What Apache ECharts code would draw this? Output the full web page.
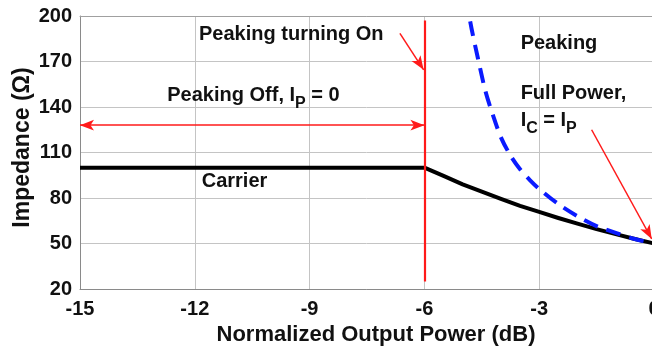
<!DOCTYPE html>
<html>
<head>
<meta charset="utf-8">
<script src="https://cdn.jsdelivr.net/npm/echarts@6/dist/echarts.min.js"></script>
<style>
  html, body { margin: 0; padding: 0; background: #ffffff; }
  #chart { width: 652px; height: 349px; }
</style>
</head>
<body>
<div id="chart"></div>
<script>
// Axis ticks
const xTicks = [-15, -12, -9, -6, -3, 0];
const yTicks = [20, 50, 80, 110, 140, 170, 200];

// Carrier amplifier load impedance (Ω) vs normalized output power (dB)
const carrierPower     = [-15, -6, -5.5, -5, -4.5, -4, -3.5, -3, -2.5, -2, -1.5, -1, -0.5, 0];
const carrierImpedance = [100, 100, 94.6, 89.0, 84.2, 79.4, 74.8, 70.8, 66.8, 63.1, 59.5, 56.2, 53.0, 50];

// Peaking amplifier load impedance (Ω), only defined once it turns on
const peakingPower     = [-5.2, -5.0, -4.8, -4.6, -4.4, -4.2, -4.0, -3.75, -3.5, -3.25, -3.0, -2.5, -2.0, -1.5, -1.0, -0.5, 0];
const peakingImpedance = [275, 228, 196, 172, 150, 134, 120, 108, 99, 92, 86, 76, 68, 61.5, 57, 53, 50];

// Peaking turn-on point and the red guide markers
const turnOnPower = -6;
const turnOnSpan = [25, 197];                 // vertical extent of the turn-on marker
const offRangeArrow = [[-15, 128], [-6, 128]]; // "Peaking Off" range
const turnOnArrow = [[-6.64, 188.6], [-6.02, 164.5]];
const fullPowerArrow = [[-1.63, 125], [-0.06, 53]];

const FONT = '"Liberation Sans", Arial, Helvetica, sans-serif';
const RED = '#ff1a1a';

const chart = echarts.init(document.getElementById('chart'), null, { renderer: 'canvas' });

const pair = (arr) => arr[0].map((x, i) => [x, arr[1][i]]);

const arrowEnd = { symbol: 'arrow', symbolSize: [8, 14] };
const noEnd = { symbol: 'none' };

const option = {
  backgroundColor: '#ffffff',
  animation: false,
  grid: { left: 80, right: -2, top: 16, bottom: 60, containLabel: false, outerBoundsMode: 'none' },
  xAxis: [{
    type: 'value',
    min: xTicks[0],
    max: xTicks[xTicks.length - 1],
    interval: 3,
    name: 'Normalized Output Power (dB)',
    nameLocation: 'middle',
    nameGap: 35,
    nameMoveOverlap: false,
    nameTextStyle: { fontFamily: FONT, fontWeight: 'bold', fontSize: 22, color: '#111', padding: [0, 0, 0, 18] },
    axisLine: { show: true, onZero: false, lineStyle: { color: '#8a8a8a', width: 1 } },
    axisTick: { show: false },
    axisLabel: { fontFamily: FONT, fontWeight: 'bold', fontSize: 20, color: '#111', margin: 10 },
    splitLine: { show: true, lineStyle: { color: '#c4c4c4', width: 1 } }
  }, {
    type: 'value',
    position: 'top',
    min: xTicks[0],
    max: xTicks[xTicks.length - 1],
    axisLine: { show: true, onZero: false, lineStyle: { color: '#a0a0a0', width: 1 } },
    axisTick: { show: false },
    axisLabel: { show: false },
    splitLine: { show: false }
  }],
  yAxis: {
    type: 'value',
    min: yTicks[0],
    max: yTicks[yTicks.length - 1],
    name: 'Impedance (Ω)',
    nameLocation: 'middle',
    nameGap: 46,
    nameMoveOverlap: false,
    nameTextStyle: { fontFamily: FONT, fontWeight: 'bold', fontSize: 23, color: '#111', padding: [0, 0, 0, 10] },
    axisLine: { show: true, onZero: false, lineStyle: { color: '#8a8a8a', width: 1 } },
    axisTick: { show: false, customValues: yTicks },
    axisLabel: { fontFamily: FONT, fontWeight: 'bold', fontSize: 20, color: '#111', margin: 8, customValues: yTicks },
    splitLine: { show: true, lineStyle: { color: '#c4c4c4', width: 1 } }
  },
  series: [
    {
      name: 'Carrier',
      type: 'line',
      data: pair([carrierPower, carrierImpedance]),
      showSymbol: false,
      z: 4,
      lineStyle: { color: '#000000', width: 4, join: 'round' },
      markLine: {
        silent: true,
        animation: false,
        label: { show: false },
        lineStyle: { color: RED, type: 'solid', width: 1.5 },
        itemStyle: { color: RED },
        emphasis: { disabled: true },
        data: [
          [
            { coord: [turnOnPower, turnOnSpan[0]], ...noEnd, lineStyle: { color: RED, width: 2.2, type: 'solid' } },
            { coord: [turnOnPower, turnOnSpan[1]], ...noEnd }
          ],
          [
            { coord: offRangeArrow[0], ...arrowEnd },
            { coord: offRangeArrow[1], ...arrowEnd }
          ],
          [
            { coord: turnOnArrow[0], ...noEnd },
            { coord: turnOnArrow[1], ...arrowEnd }
          ],
          [
            { coord: fullPowerArrow[0], ...noEnd },
            { coord: fullPowerArrow[1], ...arrowEnd }
          ]
        ]
      }
    },
    {
      name: 'Peaking',
      type: 'line',
      data: pair([peakingPower, peakingImpedance]),
      showSymbol: false,
      smooth: 0.3,
      z: 5,
      clip: true,
      lineStyle: { color: '#0a1aff', width: 4, type: [15, 9] }
    }
  ]
};

chart.setOption(option);

// Text annotations placed in data coordinates; subscripts are drawn smaller and lowered.
const notes = [
  { at: [-11.89, 187.5], parts: [['Peaking turning On', 0]] },
  { at: [-12.72, 147.9], parts: [['Peaking Off, I', 0], ['P', 1], [' = 0', 0]] },
  { at: [-11.82, 90.8],  parts: [['Carrier', 0]] },
  { at: [-3.485, 182],   parts: [['Peaking', 0]] },
  { at: [-3.485, 149],   parts: [['Full Power,', 0]] },
  { at: [-3.485, 131.4], parts: [['I', 0], ['C', 1], [' = I', 0], ['P', 1]] }
];

const MAIN_SIZE = 20, SUB_SIZE = 16, SUB_DROP = 9;
const measureCtx = document.createElement('canvas').getContext('2d');
function textWidth(str, size) {
  measureCtx.font = 'bold ' + size + 'px ' + FONT;
  return measureCtx.measureText(str).width;
}

const graphics = notes.map((note) => {
  const p = chart.convertToPixel({ xAxisIndex: 0, yAxisIndex: 0 }, note.at);
  let dx = 0;
  const children = note.parts.map(([str, isSub]) => {
    const size = isSub ? SUB_SIZE : MAIN_SIZE;
    const el = {
      type: 'text',
      x: dx,
      y: isSub ? SUB_DROP : 0,
      style: {
        text: str,
        font: 'bold ' + size + 'px ' + FONT,
        fill: '#111111',
        textAlign: 'left',
        textVerticalAlign: 'middle'
      }
    };
    dx += textWidth(str, size);
    return el;
  });
  return { type: 'group', x: p[0], y: p[1], z: 10, silent: true, children };
});

chart.setOption({ graphic: graphics });
</script>
</body>
</html>
